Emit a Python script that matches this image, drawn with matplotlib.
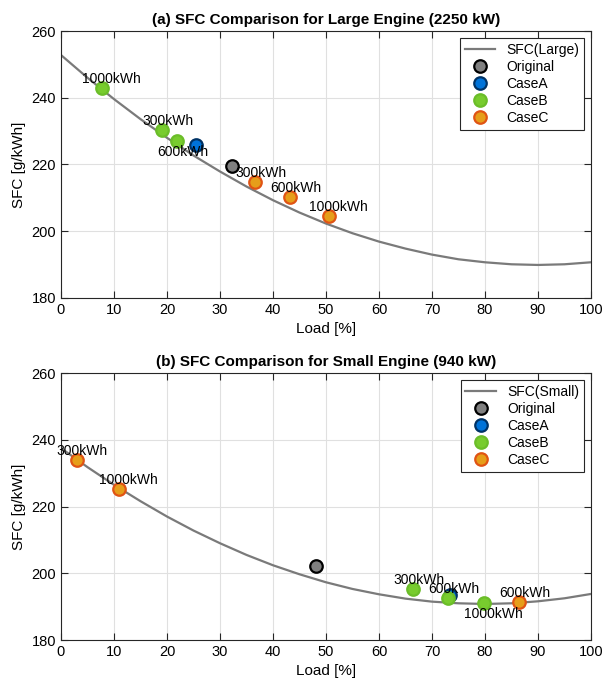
import matplotlib
matplotlib.use("Agg")
import matplotlib.pyplot as plt

plt.rcParams['font.family'] = ['Liberation Sans', 'DejaVu Sans']

# SFC curves read at every 5 % load
load_grid = [0, 5, 10, 15, 20, 25, 30, 35, 40, 45, 50,
             55, 60, 65, 70, 75, 80, 85, 90, 95, 100]
sfc_large = [252.8, 246.0, 239.6, 233.6, 228.0, 222.7, 217.9, 213.4, 209.3, 205.6, 202.3,
             199.4, 196.9, 194.8, 193.0, 191.6, 190.7, 190.1, 189.9, 190.1, 190.7]
sfc_small = [237.5, 231.8, 226.5, 221.6, 217.0, 212.8, 209.0, 205.5, 202.4, 199.7, 197.3,
             195.3, 193.7, 192.4, 191.5, 191.0, 190.8, 191.0, 191.6, 192.5, 193.8]

# operating points (load %, sfc)
large_orig = (32.3, 219.6)
large_caseA = (25.5, 225.8)
large_caseB_x = [19.1, 21.9, 7.7]
large_caseB_y = [230.3, 227.0, 242.9]
large_caseC_x = [36.6, 43.2, 50.6]
large_caseC_y = [214.8, 210.3, 204.6]

small_orig = (48.2, 202.3)
small_caseA = (73.4, 193.4)
small_caseB_x = [66.5, 73.0, 79.8]
small_caseB_y = [195.3, 192.7, 191.2]
small_caseC_x = [2.96, 86.5, 11.0]
small_caseC_y = [233.9, 191.5, 225.2]

labels = ["300kWh", "600kWh", "1000kWh"]
# label placement: +1 above, -1 below
large_B_pos = [1, -1, 1]
large_C_pos = [1, 1, 1]
small_B_pos = [1, 1, -1]
small_C_pos = [1, 1, 1]

styles = {
    "Original": dict(mfc=(0.5, 0.5, 0.5), mec="black"),
    "CaseA": dict(mfc=(0.0, 0.45, 0.85), mec=(0.0, 0.2, 0.4)),
    "CaseB": dict(mfc=(0.47, 0.8, 0.18), mec=(0.42, 0.74, 0.16)),
    "CaseC": dict(mfc=(0.9, 0.62, 0.1), mec=(0.88, 0.33, 0.08)),
}


def draw(ax, curve, name, orig, caseA, bx, by, cx, cy, bpos, cpos, title):
    ax.plot(load_grid, curve, color=(0.48, 0.48, 0.48), lw=1.6, label=name, zorder=2)
    ms = 9
    ax.plot(*orig, 'o', ms=ms, mew=1.6, label="Original", zorder=3, **styles["Original"])
    ax.plot(*caseA, 'o', ms=ms, mew=1.6, label="CaseA", zorder=3, **styles["CaseA"])
    ax.plot(bx, by, 'o', ms=ms, mew=1.6, ls='none', label="CaseB", zorder=3, **styles["CaseB"])
    ax.plot(cx, cy, 'o', ms=ms, mew=1.6, ls='none', label="CaseC", zorder=3, **styles["CaseC"])
    for xs, ys, pos in [(bx, by, bpos), (cx, cy, cpos)]:
        for x, y, lab, p in zip(xs, ys, labels, pos):
            dy = 6.5 if p > 0 else -8
            ax.annotate(lab, (x, y), xytext=(-14.4, dy), textcoords='offset points',
                        ha='left', va='center', fontsize=10, zorder=4,
                        annotation_clip=False)
    ax.set_xlim(0, 100)
    ax.set_ylim(180, 260)
    ax.set_xticks(range(0, 101, 10))
    ax.set_yticks(range(180, 261, 20))
    ax.grid(True, color=(0.88, 0.88, 0.88), lw=0.8)
    ax.set_axisbelow(True)
    ax.tick_params(direction='in', top=True, right=True, length=5, labelsize=10.5,
                   color=(0.15, 0.15, 0.15))
    for s in ax.spines.values():
        s.set_color((0.15, 0.15, 0.15))
        s.set_linewidth(0.8)
    ax.set_xlabel("Load [%]", fontsize=11)
    ax.set_ylabel("SFC [g/kWh]", fontsize=11)
    ax.set_title(title, fontsize=11, fontweight='bold', pad=5)
    leg = ax.legend(loc='upper right', fontsize=10, fancybox=False, framealpha=1,
                    edgecolor=(0.15, 0.15, 0.15), borderpad=0.35, labelspacing=0.22,
                    handlelength=2.2, borderaxespad=0.5)
    leg.get_frame().set_linewidth(0.8)


fig = plt.figure(figsize=(6.05, 6.89), dpi=100)
ax1 = fig.add_axes([0.1008, 0.5675, 0.876, 0.3875])
ax2 = fig.add_axes([0.1008, 0.0711, 0.876, 0.3875])

draw(ax1, sfc_large, "SFC(Large)", large_orig, large_caseA, large_caseB_x, large_caseB_y,
     large_caseC_x, large_caseC_y, large_B_pos, large_C_pos,
     "(a) SFC Comparison for Large Engine (2250 kW)")
draw(ax2, sfc_small, "SFC(Small)", small_orig, small_caseA, small_caseB_x, small_caseB_y,
     small_caseC_x, small_caseC_y, small_B_pos, small_C_pos,
     "(b) SFC Comparison for Small Engine (940 kW)")

fig.savefig("out.png", dpi=100)
